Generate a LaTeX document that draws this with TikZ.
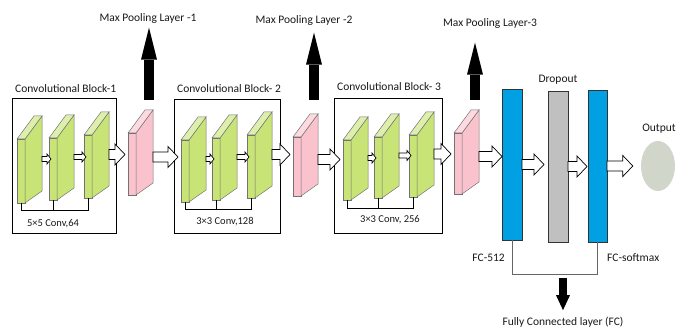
\documentclass[tikz,border=0pt]{standalone}
\usepackage{fontspec}
\setmainfont{Carlito}
\usetikzlibrary{arrows.meta,positioning,shapes.geometric}

\definecolor{convgreen}{RGB}{200,228,118}
\definecolor{poolpink}{RGB}{250,194,204}
\definecolor{fcblue}{RGB}{0,160,227}
\definecolor{dropgray}{RGB}{192,192,192}
\definecolor{outgray}{RGB}{208,214,202}

\tikzset{
  slabface/.style={draw=black!55, line width=0.5pt},
  slabfront/.style={slabface, minimum width=8, inner sep=0pt, outer sep=0pt, anchor=north west},
  blockbox/.style={draw, line width=0.7pt, inner sep=0pt, outer sep=0pt, anchor=north west},
  hollow/.style={draw, fill=white, line width=0.7pt, line join=miter},
  bus/.style={line width=0.6pt},
  txt/.style={font=\fontsize{11.5}{13}\selectfont, text=black!90, inner sep=2pt},
  convtxt/.style={font=\fontsize{10.5}{12}\selectfont, text=black!90, inner sep=2pt},
  poolarrow/.style={line width=10pt, -{Triangle[length=32pt,width=16pt,line width=0pt]}},
  fcarrow/.style={line width=8pt, -{Triangle[length=15pt,width=14pt,line width=0pt]}},
  fclayer/.style={draw=black!80, line width=0.6pt, minimum width=20, inner sep=0pt, outer sep=0pt, anchor=north west},
}

% [arrow offset]{name}{x}{top}{bottom}{colour}
\newcommand{\slab}[6][12]{%
  \node[slabfront, fill=#6, minimum height={#5-#4}] (#2) at (#3,#4) {};
  \filldraw[slabface, fill=#6] (#2.north east) -- ++(17,-23) -- ++(0,{#5-#4+11}) -- (#2.south east) -- cycle;
  \filldraw[slabface, fill=#6!60!white] (#2.north west) -- ++(17,-23) -- ++(8,0) -- (#2.north east) -- cycle;
  \coordinate (#2-out) at (#3+25,{(#4+#5)/2-#1});
  \coordinate (#2-top) at (#3+21,#4-23);
}

% {gap}{from}{to}{shaft}{head}{head length}
\newcommand{\blockarrow}[6]{%
  \path (#3 |- #2) ++(-#1,0) coordinate (ba-e) (#2) coordinate (ba-s);
  \draw[hollow] ([yshift=#4]ba-s) -- ([xshift=-#6,yshift=#4]ba-e) -- ([xshift=-#6,yshift=#5]ba-e)
    -- (ba-e) -- ([xshift=-#6,yshift=-#5]ba-e) -- ([xshift=-#6,yshift=-#4]ba-e) -- ([yshift=-#4]ba-s) -- cycle;
}
\newcommand{\bigarrow}[3][3]{\blockarrow{#1}{#2}{#3}{5pt}{10.5pt}{10pt}}
\newcommand{\smallarrow}[3][-2]{\blockarrow{#1}{#2}{#3}{2.5pt}{5pt}{4pt}}

\begin{document}
\begin{tikzpicture}[x=1pt,y=-1pt]
  \useasboundingbox (0,0) rectangle (678,331);

  % convolutional blocks
  \node[blockbox, minimum width=104, minimum height=135] (blk1) at (12,98) {};
  \node[blockbox, minimum width=106, minimum height=134] (blk2) at (174,99) {};
  \node[blockbox, minimum width=108, minimum height=135] (blk3) at (334,98) {};
  \node[txt, above right=3pt and 1pt of blk1.north west] (t1) {Convolutional Block-1};
  \node[txt, above right=4pt and 1pt of blk2.north west] (t2) {Convolutional Block- 2};
  \node[txt, above right=5pt and 1pt of blk3.north west] (t3) {Convolutional Block- 3};

  \slab{c11}{17}{139}{203}{convgreen}
  \slab{c12}{49}{138}{200}{convgreen}
  \slab{c13}{84}{135}{198}{convgreen}
  \slab{c21}{181}{140}{202}{convgreen}
  \slab{c22}{212}{138}{200}{convgreen}
  \slab{c23}{247}{135}{198}{convgreen}
  \slab{c31}{343}{140}{200}{convgreen}
  \slab{c32}{374}{137}{198}{convgreen}
  \slab{c33}{409}{135}{197}{convgreen}

  \smallarrow{c11-out}{c12.west}
  \smallarrow{c12-out}{c13.west}
  \smallarrow{c21-out}{c22.west}
  \smallarrow{c22-out}{c23.west}
  \smallarrow{c31-out}{c32.west}
  \smallarrow{c32-out}{c33.west}

  \draw[bus] (c11.south) -- ++(0,7) coordinate (bus1) -| (c13.south);
  \draw[bus] (c12.south) -- (c12.south |- bus1);
  \draw[bus] (c21.south) -- ++(0,7) coordinate (bus2) -| (c23.south);
  \draw[bus] (c22.south) -- (c22.south |- bus2);
  \draw[bus] (c31.south) -- ++(0,8) coordinate (bus3) -| (c33.south);
  \draw[bus] (c32.south) -- (c32.south |- bus3);
  \node[convtxt] (conv1) at (53,224) {5×5 Conv,64};
  \node[convtxt] (conv2) at (225,222) {3×3 Conv,128};
  \node[convtxt] (conv3) at (390,220) {3×3 Conv, 256};

  % pooling layers
  \slab[7]{p1}{128}{133}{195}{poolpink}
  \slab[7]{p2}{293}{137}{196}{poolpink}
  \slab[7]{p3}{454}{133}{194}{poolpink}
  \node[txt] (mp1) at (148,18) {Max Pooling Layer -1};
  \node[txt] (mp2) at (304,20) {Max Pooling Layer -2};
  \node[txt] (mp3) at (490,23) {Max Pooling Layer-3};
  \draw[poolarrow, shorten <=10pt, shorten >=2.5pt] (p1-top) -- (p1-top |- mp1.south);
  \draw[poolarrow, shorten <=14pt, shorten >=5.5pt] (p2-top) -- (p2-top |- mp2.south);
  \draw[poolarrow, shorten <=10pt, shorten >=12.5pt] (p3-top) -- (p3-top |- mp3.south);

  \bigarrow{c13-out}{p1.west}
  \bigarrow{p1-out}{c21.west}
  \bigarrow{c23-out}{p2.west}
  \bigarrow{p2-out}{c31.west}
  \bigarrow{c33-out}{p3.west}

  % fully connected part
  \node[fclayer, fill=fcblue, minimum height=151] (fc1) at (502,89) {};
  \node[fclayer, fill=dropgray, minimum height=151] (drop) at (548,91) {};
  \node[fclayer, fill=fcblue, minimum width=19, minimum height=152] (fc2) at (588,90) {};
  \node[ellipse, fill=outgray, minimum width=34, minimum height=50, inner sep=0pt] (outp) at (658,166) {};
  \node[txt, above=4pt of drop] (droplbl) {Dropout};
  \node[txt, inner sep=1pt] (outlbl) at (659,129) {Output};
  \node[txt, anchor=east] (fc1lbl) at (507,258) {FC-512};
  \node[txt, anchor=west] (fc2lbl) at (605,258) {FC-softmax};
  \node[txt] (fcl) at (563,322) {Fully Connected layer (FC)};

  \bigarrow[0]{p3-out}{fc1.west}
  \bigarrow[4]{fc1.east}{drop.west}
  \bigarrow[1]{drop.east}{fc2.west}
  \bigarrow[8]{fc2.east}{outp.west}

  \draw[bus, draw=black!60] (fc1.south) -- ++(0,34) coordinate (fcjoin) -| (fc2.south);
  \draw[fcarrow, shorten <=4pt, shorten >=4.5pt] (fcl.north |- fcjoin) -- (fcl.north);
\end{tikzpicture}
\end{document}
